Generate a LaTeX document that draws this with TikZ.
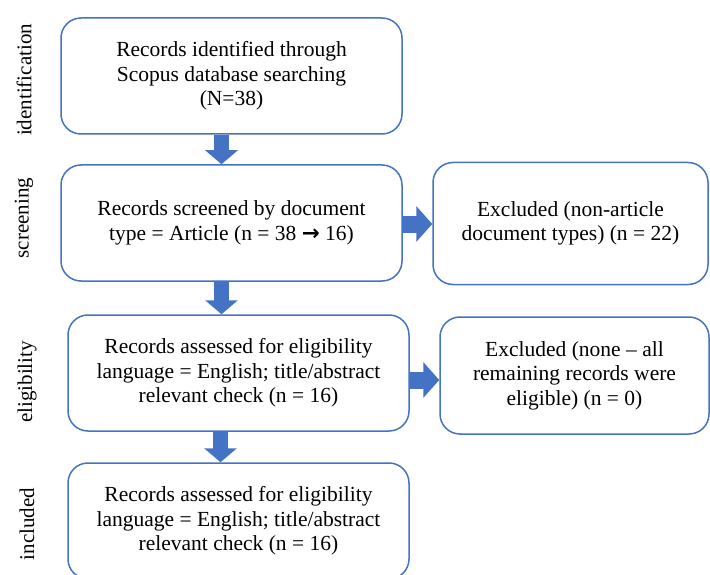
\documentclass[tikz,border=0pt]{standalone}
\usepackage{fontspec}
\setmainfont{Liberation Serif}
\newfontfamily\symfont{DejaVu Sans}
\usetikzlibrary{arrows.meta}
\definecolor{boxblue}{HTML}{4472C4}
\tikzset{
  rec/.style={draw=boxblue, line width=1.5pt, rounded corners=20pt, align=center,
    inner sep=0pt, font=\fontsize{21.5}{24.5}\selectfont},
  flow/.style={draw=boxblue, line width=15pt, -{Triangle[width=32pt,length=14pt]}},
  sideflow/.style={draw=boxblue, line width=17pt, -{Triangle[width=35pt,length=16pt]}},
  stage/.style={rotate=90, font=\fontsize{21}{24}\selectfont},
}
\begin{document}
\begin{tikzpicture}[x=1pt, y=-1pt]
  \clip (0, 0) rectangle (710, 575);

  \node[rec, minimum width=341pt, minimum height=116pt] (B1) at (231.5, 76)
    {Records identified through\\Scopus database searching\\(N=38)};
  \node[rec, minimum width=341pt, minimum height=116pt] (B2) at (231.5, 223)
    {Records screened by document\\type = Article (n = 38 {\symfont\bfseries →} 16)};
  \node[rec, minimum width=275pt, minimum height=122pt] (B3) at (570.5, 223.5)
    {Excluded (non-article\\document types) (n = 22)};
  \node[rec, minimum width=341pt, minimum height=116pt] (B4) at (238.5, 373)
    {Records assessed for eligibility\\language = English; title/abstract\\relevant check (n = 16)};
  \node[rec, minimum width=269pt, minimum height=117pt] (B5) at (574.5, 375.5)
    {Excluded (none -- all\\remaining records were\\eligible) (n = 0)};
  \node[rec, minimum width=341pt, minimum height=116pt] (B6) at (238.5, 521)
    {Records assessed for eligibility\\language = English; title/abstract\\relevant check (n = 16)};

  \draw[flow] ([xshift=-10pt]B1.south) -- ([xshift=-10pt]B2.north);
  \draw[flow] ([xshift=-10pt]B2.south) -- ([xshift=-10pt]B2.south |- B4.north);
  \draw[flow] ([xshift=-18pt]B4.south) -- ([xshift=-18pt]B4.south |- B6.north);
  \draw[sideflow] ([yshift=-1pt]B2.east) -- ([yshift=-1pt]B2.east -| B3.west);
  \draw[sideflow] ([yshift=-7pt]B4.east) -- ([yshift=-7pt]B4.east -| B5.west);

  \node[stage] (L1) at (24, 80) {identification};
  \node[stage] (L2) at (24, 218) {screening};
  \node[stage] (L3) at (27, 382) {eligibility};
  \node[stage] (L4) at (27, 524) {included};
\end{tikzpicture}
\end{document}
